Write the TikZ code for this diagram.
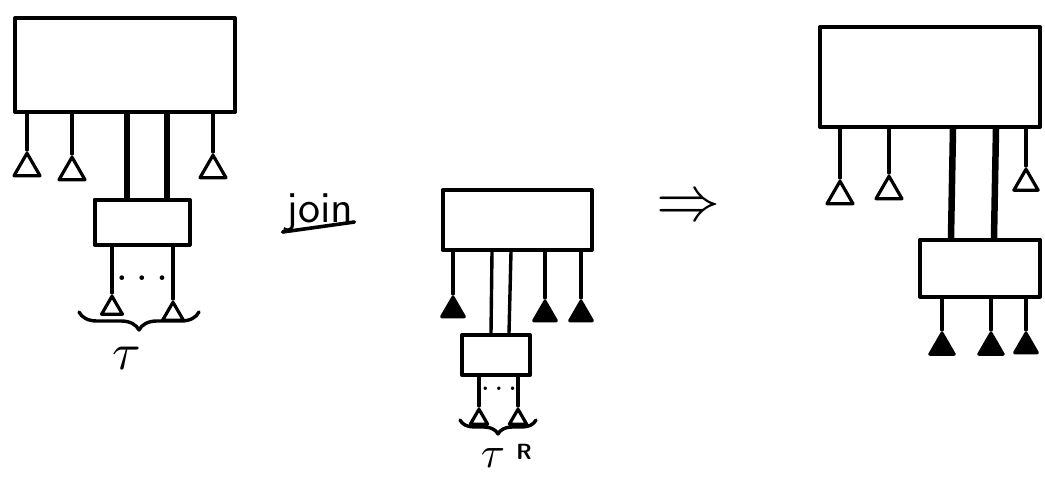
\documentclass[tikz,border=0pt]{standalone}
\usetikzlibrary{shapes.geometric,decorations.pathreplacing}
\begin{document}
\begin{tikzpicture}[x=1pt,y=-1pt,
  line cap=round, line join=round,
  box/.style={draw, line width=4pt, inner sep=0pt, minimum width=#1},
  leg/.style={line width=3.4pt},
  thickleg/.style={line width=6.5pt},
  tri/.style={draw, line width=3.2pt, regular polygon, regular polygon sides=3, minimum size=#1, inner sep=0pt},
  otri/.style={tri=#1, fill=white},
  ftri/.style={tri=#1, fill=black},
  brc/.style={line width=3.4pt, decorate, decoration={brace, amplitude=18pt, aspect=0.5}},
  lbl/.style={inner sep=0pt},
  dots/.style={inner sep=0pt, font=\bfseries}
]
\useasboundingbox (0,0) rectangle (1045,480);

% ---------------- left diagram ----------------
\node[box=220, minimum height=94] (B1) at (125,65) {};
\node[box=95, minimum height=45] (B2) at (142,222) {};
\node[otri=30, anchor=corner 1] (L1) at (27,150) {};
\node[otri=30, anchor=corner 1] (L2) at (72,154) {};
\node[otri=30, anchor=corner 1] (L3) at (213,152) {};
\draw[leg] (L1.corner 1) -- (L1.corner 1 |- B1.south);
\draw[leg] (L2.corner 1) -- (L2.corner 1 |- B1.south);
\draw[leg] (L3.corner 1) -- (L3.corner 1 |- B1.south);
\draw[thickleg] (127,0 |- B1.south) -- (127,0 |- B2.north);
\draw[thickleg] (167,0 |- B1.south) -- (167,0 |- B2.north);
\node[otri=24, anchor=corner 1] (L4) at (112,293) {};
\node[otri=24, anchor=corner 1] (L5) at (173,299) {};
\draw[leg] (L4.corner 1) -- (L4.corner 1 |- B2.south);
\draw[leg] (L5.corner 1) -- (L5.corner 1 |- B2.south);
\node[dots, scale=3] (dl) at (142,278) {.\hspace{0.35em}.\hspace{0.35em}.};
\draw[brc] (199,312) -- (79,312);
\node[lbl, scale=5.2] (tau) at (127,358) {$\tau$};

% ---------------- join ----------------
\node[lbl, font=\sffamily, scale=4.4, anchor=base] (join) at (320,222) {join};
\draw[line width=3.6pt] (join.base west) ++(-3,10) coordinate (u1) -- (join.base east) ++(6,5) coordinate (u2);

% ---------------- middle diagram ----------------
\node[box=149, minimum height=60] (B3) at (517,220) {};
\node[box=68, minimum height=40] (B4) at (496,355) {};
\node[ftri=26, anchor=corner 1] (M1) at (453,294) {};
\node[ftri=26, anchor=corner 1] (M2) at (545,298) {};
\node[ftri=26, anchor=corner 1] (M3) at (581,298) {};
\draw[leg] (M1.corner 1) -- (M1.corner 1 |- B3.south);
\draw[leg] (M2.corner 1) -- (M2.corner 1 |- B3.south);
\draw[leg] (M3.corner 1) -- (M3.corner 1 |- B3.south);
\draw[leg] (492,0 |- B3.south) -- (491,0 |- B4.north);
\draw[leg] (511,0 |- B3.south) -- (509,0 |- B4.north);
\node[otri=20, anchor=corner 1] (M4) at (479,406) {};
\node[otri=20, anchor=corner 1] (M5) at (518,406) {};
\draw[leg] (M4.corner 1) -- (M4.corner 1 |- B4.south);
\draw[leg] (M5.corner 1) -- (M5.corner 1 |- B4.south);
\node[dots, scale=2.2] (dm) at (499,389) {.\hspace{0.3em}.\hspace{0.3em}.};
\draw[brc, decoration={amplitude=14pt}] (536,420) -- (460,420);
\node[lbl, scale=4.4] (tauM) at (493,458) {$\tau$};
\node[lbl, font=\sffamily\bfseries, scale=2.2] (R) at (524,452) {R};

% ---------------- arrow ----------------
\node[lbl, scale=6.4] (arr) at (688,209) {$\Rightarrow$};

% ---------------- right diagram ----------------
\node[box=220, minimum height=100] (B5) at (930,77) {};
\node[box=120, minimum height=57] (B6) at (980,268) {};
\node[otri=30, anchor=corner 1] (R1) at (840,178) {};
\node[otri=30, anchor=corner 1] (R2) at (889,173) {};
\node[otri=28, anchor=corner 1] (R3) at (1026,166) {};
\draw[leg] (R1.corner 1) -- (R1.corner 1 |- B5.south);
\draw[leg] (R2.corner 1) -- (R2.corner 1 |- B5.south);
\draw[leg] (R3.corner 1) -- (R3.corner 1 |- B5.south);
\draw[thickleg] (953,0 |- B5.south) -- (951,0 |- B6.north);
\draw[thickleg] (996,0 |- B5.south) -- (994,0 |- B6.north);
\node[ftri=28, anchor=corner 1] (R4) at (942,330) {};
\node[ftri=28, anchor=corner 1] (R5) at (991,330) {};
\node[ftri=26, anchor=corner 1] (R6) at (1026,330) {};
\draw[leg] (R4.corner 1) -- (R4.corner 1 |- B6.south);
\draw[leg] (R5.corner 1) -- (R5.corner 1 |- B6.south);
\draw[leg] (R6.corner 1) -- (R6.corner 1 |- B6.south);
\end{tikzpicture}
\end{document}
